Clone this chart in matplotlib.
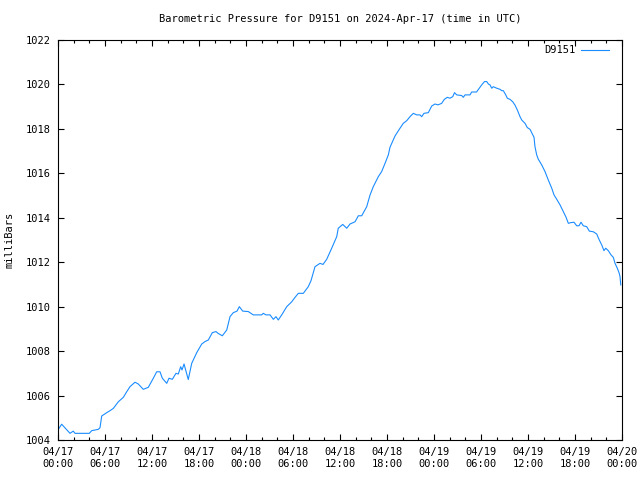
import matplotlib
matplotlib.use("Agg")
import matplotlib.pyplot as plt
import matplotlib.dates as mdates
import pandas as pd

# hours since 2024-04-17 00:00 UTC
hours = [0.04, 0.47, 1.53, 1.95, 2.17, 4.00, 4.30, 5.14, 5.36, 5.58,
         6.22, 6.64, 7.06, 7.70, 8.34, 8.77, 9.19, 9.83, 10.25, 10.89,
         11.53, 12.17, 12.60, 13.02, 13.32, 13.88, 14.17, 14.59, 15.06, 15.36,
         15.66, 15.83, 16.09, 16.34, 16.63, 17.07, 17.71, 18.35, 18.77, 19.19,
         19.70, 20.17, 20.43, 20.98, 21.54, 21.96, 22.38, 22.85, 23.15, 23.58,
         24.29, 24.93, 26.00, 26.21, 26.55, 27.07, 27.49, 27.83, 28.12, 28.56,
         29.20, 29.84, 30.26, 30.68, 31.32, 31.95, 32.30, 32.81, 33.45, 33.83,
         34.30, 34.94, 35.58, 35.78, 36.35, 36.86, 37.28, 37.92, 38.34, 38.77,
         39.41, 39.83, 40.25, 40.89, 41.32, 41.75, 42.17, 42.38, 43.02, 43.66,
         44.08, 44.52, 44.94, 45.36, 45.79, 46.21, 46.43, 46.72, 47.27, 47.71,
         48.13, 48.51, 48.98, 49.32, 49.70, 50.04, 50.39, 50.62, 50.90, 51.54,
         51.74, 51.96, 52.60, 52.81, 53.43, 53.79, 54.09, 54.45, 54.73, 54.94,
         55.15, 55.37, 55.57, 56.01, 56.43, 56.65, 56.85, 57.16, 57.36, 57.70,
         58.05, 58.34, 58.64, 58.98, 59.20, 59.62, 59.91, 60.26, 60.47, 60.77,
         60.89, 61.11, 61.32, 61.75, 62.17, 62.59, 63.03, 63.32, 63.67, 64.09,
         64.51, 64.85, 65.15, 65.45, 65.87, 66.22, 66.51, 66.77, 67.06, 67.49,
         67.83, 68.34, 68.77, 69.10, 69.41, 69.70, 69.92, 70.25, 70.60, 70.89,
         71.11, 71.40, 71.62, 71.75, 71.84]

pressure = [1004.48, 1004.71, 1004.30, 1004.40, 1004.30, 1004.30, 1004.42, 1004.48, 1004.55, 1005.08,
            1005.23, 1005.32, 1005.42, 1005.72, 1005.92, 1006.17, 1006.40, 1006.60, 1006.52, 1006.28,
            1006.37, 1006.78, 1007.07, 1007.07, 1006.78, 1006.55, 1006.78, 1006.73, 1007.00, 1006.97,
            1007.30, 1007.15, 1007.42, 1007.10, 1006.72, 1007.45, 1007.93, 1008.32, 1008.43, 1008.50,
            1008.83, 1008.88, 1008.80, 1008.69, 1008.95, 1009.55, 1009.73, 1009.80, 1010.00, 1009.80,
            1009.78, 1009.63, 1009.63, 1009.70, 1009.63, 1009.63, 1009.43, 1009.55, 1009.40, 1009.63,
            1010.00, 1010.22, 1010.42, 1010.60, 1010.60, 1010.90, 1011.17, 1011.80, 1011.95, 1011.90,
            1012.13, 1012.63, 1013.15, 1013.53, 1013.70, 1013.53, 1013.72, 1013.82, 1014.09, 1014.09,
            1014.50, 1015.02, 1015.40, 1015.85, 1016.08, 1016.45, 1016.83, 1017.17, 1017.68, 1018.03,
            1018.25, 1018.37, 1018.55, 1018.70, 1018.63, 1018.63, 1018.55, 1018.70, 1018.73, 1019.03,
            1019.12, 1019.08, 1019.15, 1019.33, 1019.42, 1019.38, 1019.45, 1019.63, 1019.53, 1019.50,
            1019.42, 1019.53, 1019.53, 1019.66, 1019.66, 1019.83, 1019.98, 1020.13, 1020.13, 1020.02,
            1019.98, 1019.83, 1019.90, 1019.83, 1019.78, 1019.72, 1019.72, 1019.53, 1019.38, 1019.33,
            1019.22, 1019.07, 1018.85, 1018.55, 1018.40, 1018.25, 1018.06, 1017.98, 1017.83, 1017.62,
            1017.20, 1016.83, 1016.63, 1016.38, 1016.08, 1015.70, 1015.33, 1015.03, 1014.83, 1014.58,
            1014.28, 1014.03, 1013.75, 1013.78, 1013.80, 1013.64, 1013.64, 1013.80, 1013.64, 1013.60,
            1013.40, 1013.37, 1013.27, 1013.00, 1012.78, 1012.52, 1012.63, 1012.52, 1012.33, 1012.22,
            1011.95, 1011.73, 1011.53, 1011.35, 1010.98]

station = "D9151"
start = pd.Timestamp("2024-04-17 00:00")
end = pd.Timestamp("2024-04-20 00:00")
times = start + pd.to_timedelta(hours, unit="h")

plt.rcParams["font.family"] = ["DejaVu Sans Mono"]
plt.rcParams["font.size"] = 7

fig = plt.figure(figsize=(6.4, 4.8), dpi=100)
ax = fig.add_axes([58 / 640, 40 / 480, 564 / 640, 400 / 480])

ax.plot(times, pressure, color="#1a8cff", lw=0.8, label=station)

ax.set_xlim(start, end)
ax.set_ylim(1004, 1022)
ax.set_yticks(range(1004, 1023, 2))

ax.xaxis.set_major_locator(mdates.HourLocator(byhour=range(0, 24, 6)))
ax.xaxis.set_minor_locator(mdates.HourLocator(byhour=range(0, 24, 2)))
ax.xaxis.set_major_formatter(mdates.DateFormatter("%m/%d\n%H:%M"))

ax.tick_params(which="both", direction="in", top=True, right=True, width=0.8, labelsize=7.5)
ax.tick_params(which="major", length=4.5, pad=5)
ax.tick_params(which="minor", length=2.5)
for s in ax.spines.values():
    s.set_linewidth(0.8)

ax.set_title("Barometric Pressure for %s on 2024-Apr-17 (time in UTC)" % station,
             fontsize=7.5, pad=13)
ax.set_ylabel("milliBars", fontsize=7.5, labelpad=8)

ax.legend(loc="upper right", bbox_to_anchor=(0.989, 1.005), frameon=False, markerfirst=False,
          handlelength=2.6, handletextpad=0.6, fontsize=7.5, borderaxespad=0.3)

fig.savefig("out.png", dpi=100)
